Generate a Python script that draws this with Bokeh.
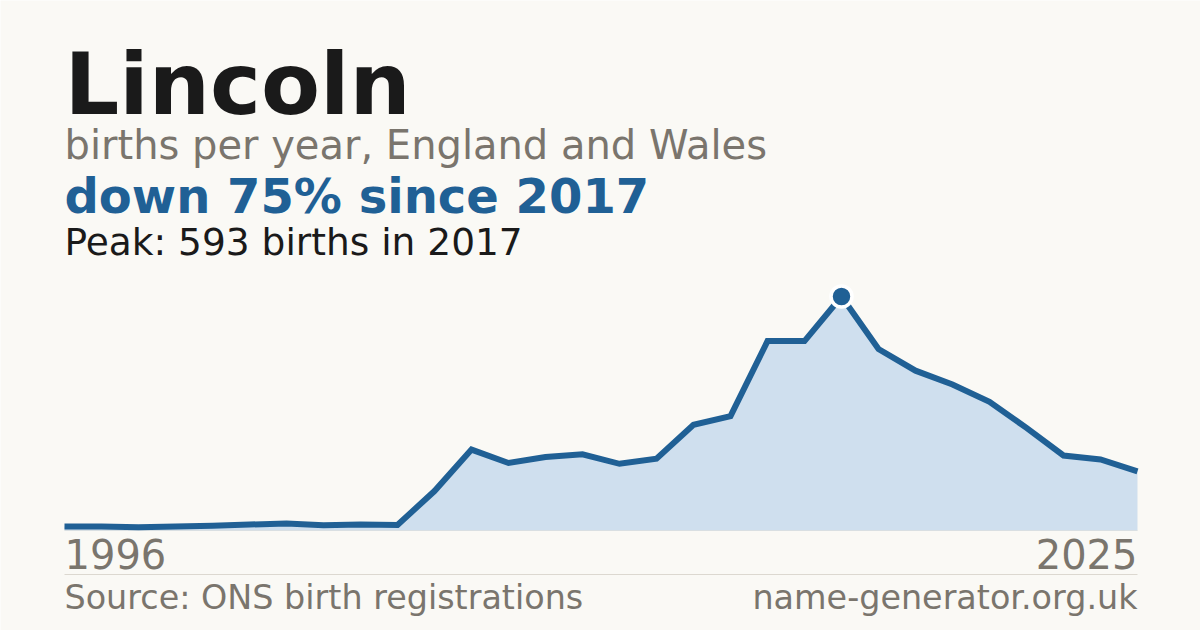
from bokeh.plotting import figure
from bokeh.models import Label, Range1d, ColumnDataSource
from bokeh.embed import file_html
from bokeh.resources import INLINE

# ---- data ----
years = list(range(1996, 2026))
births = [10, 10, 8, 10, 12, 15, 18, 13, 15, 14,
          100, 205, 171, 186, 193, 169, 182, 268, 290, 480,
          480, 593, 460, 405, 370, 326, 260, 190, 180, 150]
peak_year = 2017
peak_value = 593
title = "Lincoln"
subtitle = "births per year, England and Wales"
headline = "down 75% since 2017"
peak_text = "Peak: 593 births in 2017"
first_label = "1996"
last_label = "2025"
source_text = "Source: ONS birth registrations"
site_text = "name-generator.org.uk"

# ---- layout ----
W, H = 1200, 630
BG = "#faf9f5"
BLUE = "#206095"
FILL = "#cfdfee"
GREY = "#7a756d"
DARK = "#1a1a1a"
FONT = "DejaVu Sans"

px_left, px_right = 64, 1137
py_base, py_peak = 530, 296
ppy = (px_right - px_left) / (years[-1] - years[0])
ppb = (py_base - py_peak) / peak_value

x0 = years[0] - px_left / ppy
x1 = years[0] + (W - px_left) / ppy
y0 = -(H - py_base) / ppb
y1 = py_base / ppb

def dx(px):
    return x0 + px / ppy

def dy(py):
    return (py_base - py) / ppb

p = figure(width=W, height=H, output_backend="svg", toolbar_location=None,
           x_range=Range1d(x0, x1), y_range=Range1d(y0, y1),
           x_axis_location=None, y_axis_location=None,
           min_border=0, min_border_left=0, min_border_right=0,
           min_border_top=0, min_border_bottom=0)
p.background_fill_color = BG
p.border_fill_color = BG
p.outline_line_color = None
p.grid.visible = False

src = ColumnDataSource(dict(x=years, y=births, z=[0] * len(years)))

p.segment(x0=[years[0]], y0=[0], x1=[years[-1]], y1=[0], line_color="#e3dfd6", line_width=1)
p.varea(x="x", y1="z", y2="y", source=src, fill_color=FILL)
p.line(x="x", y="y", source=src, line_color=BLUE, line_width=6, line_join="miter")
p.scatter(x=[peak_year], y=[peak_value], size=21, fill_color=BLUE,
          line_color="white", line_width=3.5)

# footer separator
p.segment(x0=[years[0]], y0=[dy(574)], x1=[years[-1]], y1=[dy(574)],
          line_color="#dcd8d0", line_width=1)

def lab(text, px, py, size, color, shift, bold=False, align="left"):
    p.add_layout(Label(x=dx(px), y=dy(py - shift), text=text, text_font=FONT,
                       text_font_size=f"{size}px", text_color=color,
                       text_font_style="bold" if bold else "normal",
                       text_align=align, text_baseline="alphabetic"))

lab(title, 64, 113, 86, DARK, 30, bold=True)
lab(subtitle, 64, 160, 40, GREY, 16)
lab(headline, 64, 214, 48, BLUE, 19, bold=True)
lab(peak_text, 64, 254, 37.5, DARK, 13)
lab(first_label, 64, 570, 40, GREY, 17)
lab(last_label, 1137, 570, 40, GREY, 17, align="right")
lab(source_text, 64, 609, 33.4, GREY, 12)
lab(site_text, 1137, 609, 33.4, GREY, 12, align="right")

open("out.html", "w").write(file_html(p, INLINE))
